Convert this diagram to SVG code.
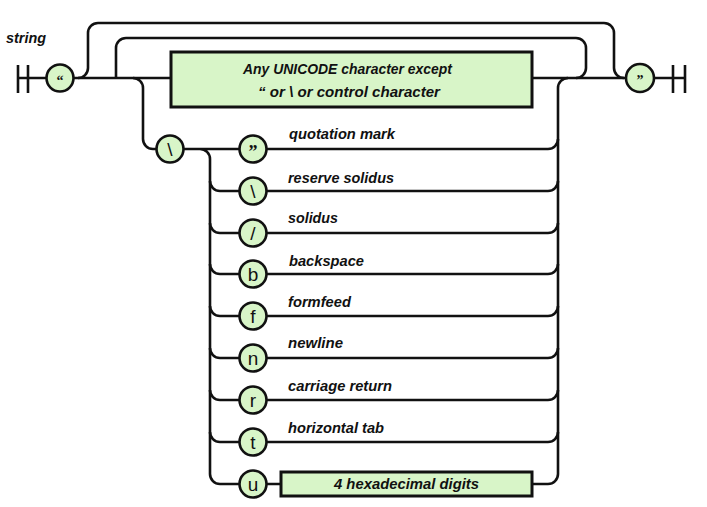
<svg xmlns="http://www.w3.org/2000/svg" width="707" height="507" viewBox="0 0 707 507">
<style>
.ln{fill:none;stroke:#111;stroke-width:2.6;stroke-linecap:butt}
.c{fill:#d8f5c8;stroke:#111;stroke-width:2.6}
.b{fill:#d8f5c8;stroke:#111;stroke-width:3}
.lbl{font-family:"Liberation Sans",Arial,sans-serif;font-weight:bold;font-style:italic;font-size:15.5px;fill:#111}
.g{font-family:"Liberation Sans",Arial,sans-serif;font-size:19px;fill:#111;text-anchor:middle}
.q{font-family:"Liberation Serif",serif;font-weight:bold;fill:#111;text-anchor:middle}
</style>
<rect width="707" height="507" fill="#fff"/>
<text class="lbl" x="6" y="43" textLength="40" lengthAdjust="spacingAndGlyphs">string</text>
<g id="connectors">
<path class="ln" d="M18 65V93M28 65V93M18 78H46M74 78H171M532 78H626M654 78H685M673 65V93M685 65V93"/>
<path class="ln" d="M78 78A10 10 0 0 0 88 68V33A10 10 0 0 1 98 23H604A10 10 0 0 1 614 33V68A10 10 0 0 0 624 78"/>
<path class="ln" d="M116 78V48A10 10 0 0 1 126 38H576A10 10 0 0 1 586 48V68A10 10 0 0 1 576 78"/>
<path class="ln" d="M133 78A10 10 0 0 1 143 88V139A10 10 0 0 0 153 149H157"/>
<path class="ln" d="M184 149H240M200 149A10 10 0 0 1 210 159V474"/>
<path class="ln" d="M558 88V474M558 88A10 10 0 0 1 568 78"/>
<path class="ln" d="M267 149H548A10 10 0 0 0 558 139"/>
<path class="ln" d="M210 181A10 10 0 0 0 220 191H240M267 191H548A10 10 0 0 0 558 181"/>
<path class="ln" d="M210 223A10 10 0 0 0 220 233H240M267 233H548A10 10 0 0 0 558 223"/>
<path class="ln" d="M210 264A10 10 0 0 0 220 274H240M267 274H548A10 10 0 0 0 558 264"/>
<path class="ln" d="M210 306A10 10 0 0 0 220 316H240M267 316H548A10 10 0 0 0 558 306"/>
<path class="ln" d="M210 348A10 10 0 0 0 220 358H240M267 358H548A10 10 0 0 0 558 348"/>
<path class="ln" d="M210 390A10 10 0 0 0 220 400H240M267 400H548A10 10 0 0 0 558 390"/>
<path class="ln" d="M210 432A10 10 0 0 0 220 442H240M267 442H548A10 10 0 0 0 558 432"/>
<path class="ln" d="M210 474A10 10 0 0 0 220 484H240M267 484H281M532 484H548A10 10 0 0 0 558 474"/>
</g>
<g id="open-quote"><circle class="c" cx="60" cy="78" r="13.5"/><text class="q" x="60" y="85" font-size="14">“</text></g>
<g id="any-char"><rect class="b" x="171" y="52" width="361" height="55"/>
<text class="lbl" x="243" y="74" textLength="209" lengthAdjust="spacingAndGlyphs">Any UNICODE character except</text>
<text class="lbl" x="258" y="97" textLength="182" lengthAdjust="spacingAndGlyphs">“ or \ or control character</text></g>
<g id="close-quote"><circle class="c" cx="640" cy="78" r="14"/><text class="q" x="640" y="85" font-size="14">”</text></g>
<g id="escape"><circle class="c" cx="170" cy="149" r="13.5"/><text class="g" x="170" y="156">\</text></g>
<g id="esc-quote"><circle class="c" cx="253" cy="149" r="13.5"/><text class="q" x="253" y="158" font-size="18">”</text>
<text class="lbl" x="289" y="139" textLength="106" lengthAdjust="spacingAndGlyphs">quotation mark</text></g>
<g id="esc-backslash"><circle class="c" cx="253" cy="191" r="13.5"/><text class="g" x="253" y="198">\</text>
<text class="lbl" x="288" y="183" textLength="106" lengthAdjust="spacingAndGlyphs">reserve solidus</text></g>
<g id="esc-slash"><circle class="c" cx="253" cy="233" r="13.5"/><text class="g" x="253" y="240">/</text>
<text class="lbl" x="288" y="223" textLength="50" lengthAdjust="spacingAndGlyphs">solidus</text></g>
<g id="esc-b"><circle class="c" cx="253" cy="274" r="13.5"/><text class="g" x="253" y="281">b</text>
<text class="lbl" x="289" y="266" textLength="75" lengthAdjust="spacingAndGlyphs">backspace</text></g>
<g id="esc-f"><circle class="c" cx="253" cy="316" r="13.5"/><text class="g" x="253" y="323">f</text>
<text class="lbl" x="288" y="307" textLength="63" lengthAdjust="spacingAndGlyphs">formfeed</text></g>
<g id="esc-n"><circle class="c" cx="253" cy="358" r="13.5"/><text class="g" x="253" y="365">n</text>
<text class="lbl" x="288" y="348" textLength="55" lengthAdjust="spacingAndGlyphs">newline</text></g>
<g id="esc-r"><circle class="c" cx="253" cy="400" r="13.5"/><text class="g" x="253" y="407">r</text>
<text class="lbl" x="288" y="391" textLength="104" lengthAdjust="spacingAndGlyphs">carriage return</text></g>
<g id="esc-t"><circle class="c" cx="253" cy="442" r="13.5"/><text class="g" x="253" y="449">t</text>
<text class="lbl" x="288" y="433" textLength="96" lengthAdjust="spacingAndGlyphs">horizontal tab</text></g>
<g id="esc-u"><circle class="c" cx="253" cy="484" r="13.5"/><text class="g" x="253" y="491">u</text></g>
<g id="hex"><rect class="b" x="281" y="472" width="251" height="24"/>
<text class="lbl" x="334" y="489" textLength="145" lengthAdjust="spacingAndGlyphs">4 hexadecimal digits</text></g>
</svg>
